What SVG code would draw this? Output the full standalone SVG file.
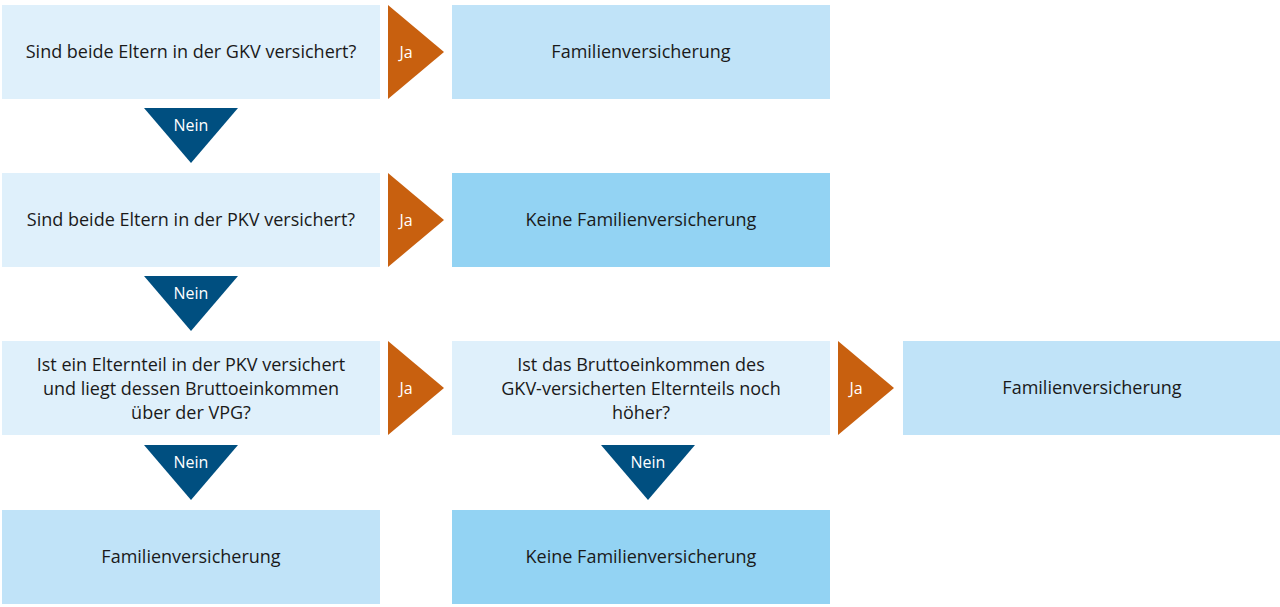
<svg xmlns="http://www.w3.org/2000/svg" width="1280" height="607" viewBox="0 0 1280 607">
<style>
.q{fill:#dff0fb}.a{fill:#c0e3f8}.k{fill:#93d3f3}
.t{font-family:"Open Sans","Liberation Sans",sans-serif;font-size:18px;fill:#1a1a1a;text-anchor:middle}
.l{font-family:"Open Sans","Liberation Sans",sans-serif;font-size:16px;fill:#fff;text-anchor:middle}
.ja{fill:#c8600f}.nein{fill:#004f80}
</style>
<rect width="1280" height="607" fill="#fff"/>
<g id="n1"><rect class="q" x="2" y="5" width="378" height="94"/><text class="t" x="191" y="58">Sind beide Eltern in der GKV versichert?</text></g>
<g id="n2"><rect class="a" x="452" y="5" width="378" height="94"/><text class="t" x="641" y="58">Familienversicherung</text></g>
<g id="n3"><rect class="q" x="2" y="173" width="378" height="94"/><text class="t" x="191" y="226">Sind beide Eltern in der PKV versichert?</text></g>
<g id="n4"><rect class="k" x="452" y="173" width="378" height="94"/><text class="t" x="641" y="226">Keine Familienversicherung</text></g>
<g id="n5"><rect class="q" x="2" y="341" width="378" height="94"/><text class="t" x="191" y="371">Ist ein Elternteil in der PKV versichert</text><text class="t" x="191" y="395">und liegt dessen Bruttoeinkommen</text><text class="t" x="191" y="419">über der VPG?</text></g>
<g id="n6"><rect class="q" x="452" y="341" width="378" height="94"/><text class="t" x="641" y="371">Ist das Bruttoeinkommen des</text><text class="t" x="641" y="395">GKV-versicherten Elternteils noch</text><text class="t" x="641" y="419">höher?</text></g>
<g id="n7"><rect class="a" x="903" y="341" width="377" height="94"/><text class="t" x="1092" y="394">Familienversicherung</text></g>
<g id="n8"><rect class="a" x="2" y="510" width="378" height="94"/><text class="t" x="191" y="563">Familienversicherung</text></g>
<g id="n9"><rect class="k" x="452" y="510" width="378" height="94"/><text class="t" x="641" y="563">Keine Familienversicherung</text></g>
<g id="connectors">
<polygon class="ja" points="388,5 444,52 388,99"/><text class="l" x="406" y="58">Ja</text>
<polygon class="ja" points="388,173 444,220 388,267"/><text class="l" x="406" y="226">Ja</text>
<polygon class="ja" points="388,341 444,388 388,435"/><text class="l" x="406" y="394">Ja</text>
<polygon class="ja" points="838,341 894,388 838,435"/><text class="l" x="856" y="394">Ja</text>
<polygon class="nein" points="144,108 238,108 191,163"/><text class="l" x="191" y="131">Nein</text>
<polygon class="nein" points="144,276 238,276 191,331"/><text class="l" x="191" y="299">Nein</text>
<polygon class="nein" points="144,445 238,445 191,500"/><text class="l" x="191" y="468">Nein</text>
<polygon class="nein" points="601,445 695,445 648,500"/><text class="l" x="648" y="468">Nein</text>
</g>
</svg>
